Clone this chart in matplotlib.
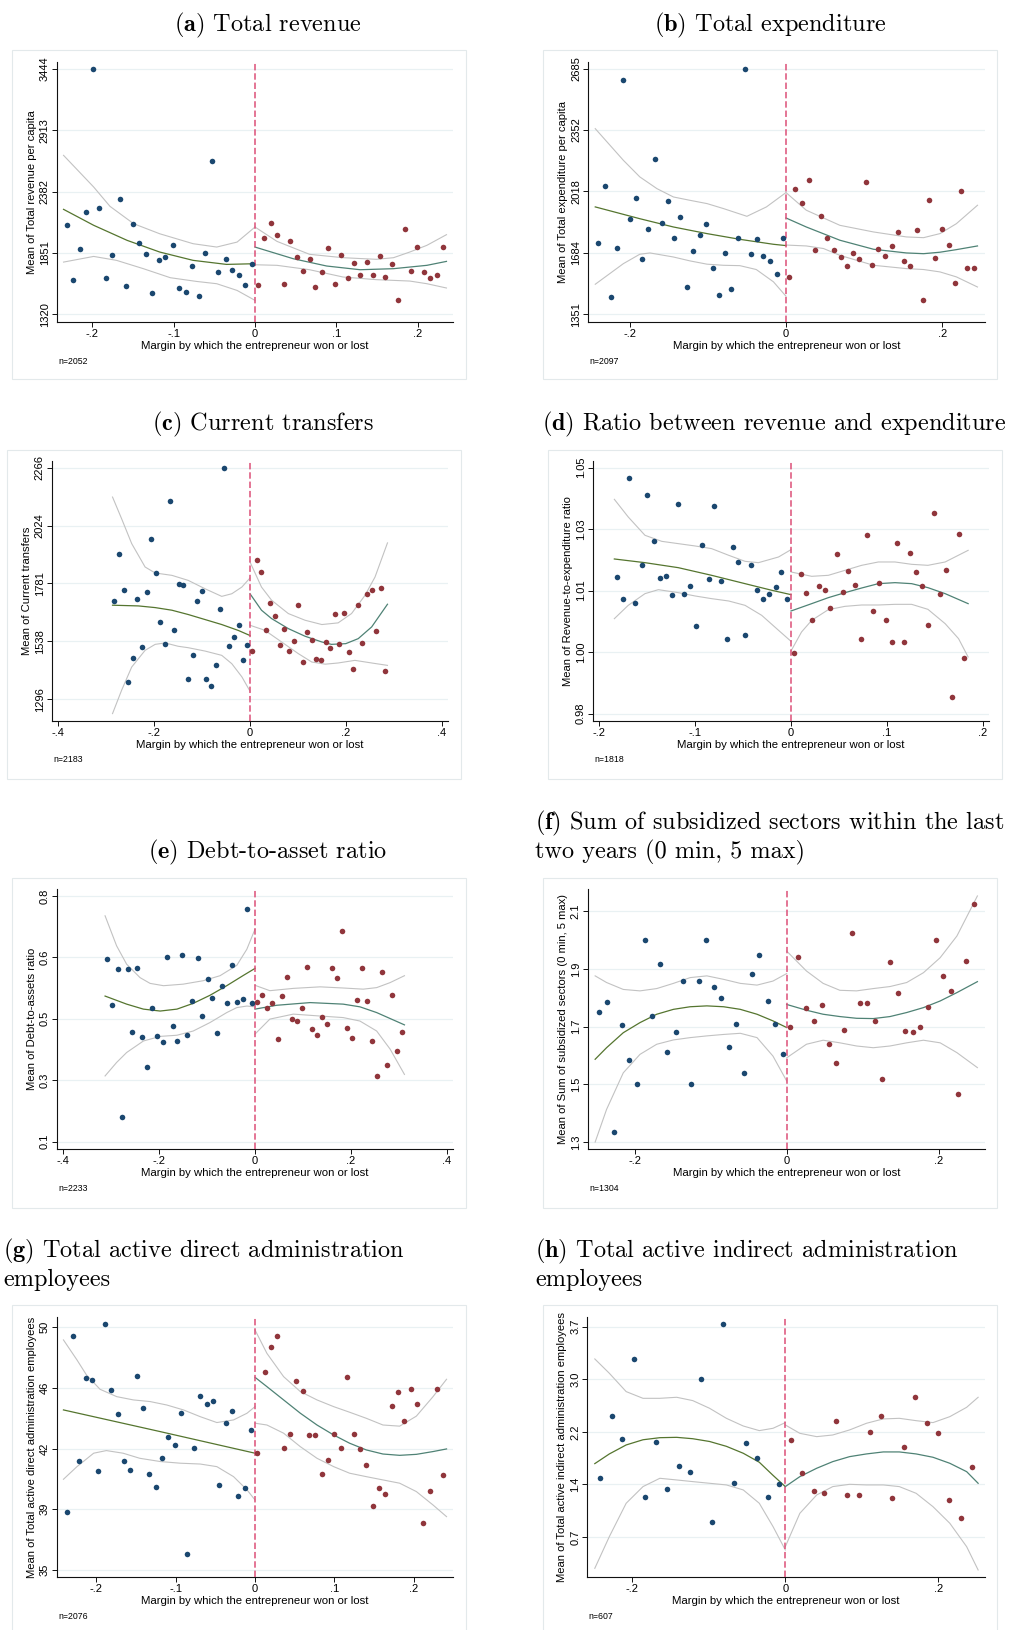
import matplotlib
matplotlib.use("Agg")
import matplotlib.pyplot as plt
from matplotlib.patches import Rectangle

# ---------------------------------------------------------------- data
# binned means (x = margin, y = mean), left of cutoff (lost) and right (won)
A_BLUE = [(-0.231,2095),(-0.223,1617),(-0.215,1888),(-0.207,2208),(-0.199,3444),(-0.191,2239),(-0.183,1631),(-0.175,1830),(-0.166,2317),(-0.158,1562),(-0.150,2098),(-0.142,1937),(-0.134,1845),(-0.126,1502),(-0.118,1790),(-0.110,1816),(-0.101,1919),(-0.093,1551),(-0.085,1516),(-0.077,1738),(-0.069,1476),(-0.061,1847),(-0.053,2643),(-0.045,1686),(-0.036,1798),(-0.028,1706),(-0.020,1660),(-0.012,1574),(-0.004,1755)]
A_RED = [(0.004,1571),(0.011,1983),(0.020,2110),(0.027,2006),(0.035,1582),(0.043,1954),(0.051,1816),(0.059,1698),(0.067,1801),(0.074,1559),(0.082,1686),(0.090,1891),(0.098,1582),(0.106,1836),(0.114,1634),(0.121,1764),(0.129,1663),(0.137,1772),(0.145,1660),(0.153,1827),(0.160,1646),(0.168,1752),(0.176,1444),(0.184,2061),(0.192,1698),(0.199,1899),(0.207,1686),(0.215,1634),(0.223,1660),(0.231,1905)]
A_FIT_L = [(-0.235,2228),(-0.198,2090),(-0.157,1960),(-0.117,1859),(-0.076,1787),(-0.035,1752),(0,1758)]
A_HI_L = [(-0.235,2695),(-0.198,2421),(-0.178,2254),(-0.149,2104),(-0.117,2017),(-0.076,1931),(-0.047,1902),(-0.022,1945),(0,2075)]
A_LO_L = [(-0.235,1772),(-0.198,1821),(-0.170,1787),(-0.137,1715),(-0.104,1637),(-0.072,1605),(-0.047,1585),(-0.022,1527),(0,1441)]
A_FIT_R = [(0,1902),(0.047,1801),(0.088,1738),(0.129,1706),(0.170,1715),(0.211,1744),(0.235,1778)]
A_HI_R = [(0,2075),(0.027,1951),(0.067,1839),(0.108,1810),(0.149,1796),(0.170,1810),(0.190,1859),(0.211,1917),(0.235,2009)]
A_LO_R = [(0,1749),(0.027,1744),(0.067,1706),(0.108,1643),(0.149,1620),(0.190,1608),(0.211,1585),(0.235,1548)]

B_BLUE = [(-0.241,1737),(-0.232,2050),(-0.224,1447),(-0.216,1709),(-0.208,2622),(-0.200,1869),(-0.192,1983),(-0.184,1653),(-0.176,1816),(-0.167,2194),(-0.159,1845),(-0.151,1965),(-0.143,1765),(-0.135,1881),(-0.127,1501),(-0.119,1697),(-0.110,1784),(-0.102,1840),(-0.094,1604),(-0.086,1456),(-0.078,1686),(-0.070,1487),(-0.061,1767),(-0.053,2685),(-0.045,1680),(-0.037,1762),(-0.029,1668),(-0.020,1642),(-0.012,1570),(-0.004,1764)]
B_RED = [(0.004,1552),(0.012,2032),(0.020,1954),(0.029,2082),(0.037,1699),(0.045,1887),(0.053,1765),(0.061,1702),(0.070,1661),(0.078,1615),(0.086,1682),(0.094,1650),(0.102,2068),(0.110,1619),(0.118,1706),(0.127,1670),(0.135,1724),(0.143,1798),(0.151,1641),(0.159,1613),(0.167,1807),(0.175,1429),(0.183,1972),(0.191,1659),(0.200,1814),(0.208,1729),(0.216,1521),(0.224,2021),(0.232,1604),(0.241,1604)]
B_FIT_L = [(-0.244,1934),(-0.187,1870),(-0.144,1825),(-0.101,1789),(-0.059,1758),(-0.016,1731),(0,1724)]
B_HI_L = [(-0.244,2359),(-0.208,2187),(-0.187,2097),(-0.165,2033),(-0.144,1988),(-0.123,1970),(-0.101,1952),(-0.080,1925),(-0.050,1883),(-0.025,1934),(0,2012)]
B_LO_L = [(-0.244,1514),(-0.208,1626),(-0.187,1677),(-0.174,1684),(-0.144,1662),(-0.123,1641),(-0.101,1623),(-0.080,1617),(-0.059,1615),(-0.038,1594),(-0.016,1527),(0,1449)]
B_FIT_R = [(0,1874),(0.026,1825),(0.069,1753),(0.112,1704),(0.154,1684),(0.176,1680),(0.197,1688),(0.218,1702),(0.245,1722)]
B_HI_R = [(0,2012),(0.026,1916),(0.069,1834),(0.112,1798),(0.154,1771),(0.176,1767),(0.197,1789),(0.218,1843),(0.245,1943)]
B_LO_R = [(0,1727),(0.026,1722),(0.048,1708),(0.069,1671),(0.112,1617),(0.154,1599),(0.176,1594),(0.197,1581),(0.218,1554),(0.245,1499)]

C_BLUE = [(-0.283,1708),(-0.273,1903),(-0.264,1755),(-0.254,1367),(-0.244,1468),(-0.235,1716),(-0.225,1515),(-0.216,1744),(-0.206,1969),(-0.197,1826),(-0.187,1621),(-0.177,1529),(-0.168,2128),(-0.159,1585),(-0.149,1780),(-0.139,1773),(-0.129,1383),(-0.120,1480),(-0.111,1708),(-0.101,1748),(-0.092,1383),(-0.082,1353),(-0.072,1441),(-0.063,1676),(-0.054,2266),(-0.044,1519),(-0.034,1557),(-0.024,1607),(-0.015,1459),(-0.006,1525)]
C_RED = [(0.004,1498),(0.014,1878),(0.024,1829),(0.033,1588),(0.042,1698),(0.052,1644),(0.062,1525),(0.072,1589),(0.081,1497),(0.091,1542),(0.101,1690),(0.110,1452),(0.120,1579),(0.129,1543),(0.138,1463),(0.148,1461),(0.158,1536),(0.168,1510),(0.177,1652),(0.186,1526),(0.196,1657),(0.206,1494),(0.216,1424),(0.225,1692),(0.234,1530),(0.244,1738),(0.254,1752),(0.264,1582),(0.273,1764),(0.282,1413)]
C_FIT_L = [(-0.287,1690),(-0.233,1687),(-0.198,1680),(-0.163,1669),(-0.129,1651),(-0.094,1630),(-0.059,1609),(-0.024,1584),(0,1563)]
C_HI_L = [(-0.287,2143),(-0.268,2052),(-0.247,1948),(-0.219,1850),(-0.198,1825),(-0.163,1815),(-0.129,1794),(-0.094,1759),(-0.059,1727),(-0.038,1738),(-0.017,1766),(0,1804)]
C_LO_L = [(-0.287,1236),(-0.268,1334),(-0.247,1431),(-0.219,1501),(-0.198,1526),(-0.177,1532),(-0.150,1518),(-0.129,1512),(-0.094,1498),(-0.059,1480),(-0.038,1445),(-0.017,1390),(0,1330)]
C_FIT_R = [(0,1738),(0.024,1669),(0.045,1634),(0.080,1592),(0.115,1560),(0.150,1536),(0.170,1526),(0.200,1529),(0.226,1550),(0.254,1599),(0.287,1694)]
C_HI_R = [(0,1871),(0.024,1766),(0.045,1711),(0.080,1655),(0.115,1627),(0.150,1609),(0.184,1616),(0.212,1655),(0.240,1731),(0.261,1808),(0.287,1951)]
C_LO_R = [(0,1606),(0.031,1585),(0.066,1536),(0.101,1487),(0.129,1452),(0.157,1443),(0.184,1448),(0.219,1459),(0.254,1448),(0.287,1438)]

D_BLUE = [(-0.182,1.0176),(-0.175,1.0118),(-0.169,1.0432),(-0.163,1.0109),(-0.156,1.0207),(-0.150,1.0388),(-0.143,1.0270),(-0.137,1.0172),(-0.131,1.0179),(-0.124,1.0128),(-0.118,1.0366),(-0.112,1.0131),(-0.105,1.0153),(-0.099,1.0047),(-0.093,1.0260),(-0.086,1.0170),(-0.080,1.0360),(-0.073,1.0164),(-0.067,1.0014),(-0.061,1.0254),(-0.055,1.0215),(-0.048,1.0024),(-0.042,1.0208),(-0.036,1.0141),(-0.029,1.0119),(-0.023,1.0130),(-0.016,1.0149),(-0.010,1.0189),(-0.004,1.0118)]
D_RED = [(0.003,0.9978),(0.010,1.0184),(0.016,1.0134),(0.022,1.0064),(0.029,1.0151),(0.035,1.0142),(0.041,1.0094),(0.048,1.0236),(0.054,1.0137),(0.060,1.0190),(0.067,1.0156),(0.073,1.0015),(0.079,1.0285),(0.086,1.0087),(0.092,1.0159),(0.099,1.0064),(0.105,1.0006),(0.111,1.0265),(0.118,1.0007),(0.124,1.0239),(0.131,1.0188),(0.137,1.0151),(0.143,1.0051),(0.149,1.0342),(0.156,1.0132),(0.162,1.0194),(0.168,0.9864),(0.175,1.0288),(0.181,0.9966)]
D_FIT_L = [(-0.1845,1.02224),(-0.1525,1.02128),(-0.1177,1.01998),(-0.0829,1.01799),(-0.048,1.01582),(-0.020,1.01409),(0,1.01296)]
D_HI_L = [(-0.1845,1.03776),(-0.170,1.03317),(-0.1525,1.0284),(-0.135,1.02683),(-0.1177,1.02623),(-0.100,1.02562),(-0.0829,1.02493),(-0.065,1.02319),(-0.048,1.02163),(-0.034,1.02128),(-0.013,1.02276),(0,1.02467)]
D_LO_L = [(-0.1845,1.00671),(-0.170,1.01018),(-0.1525,1.01322),(-0.1385,1.01426),(-0.1177,1.01348),(-0.100,1.01261),(-0.0829,1.01192),(-0.065,1.01131),(-0.048,1.01018),(-0.0306,1.00758),(-0.013,1.00368),(0,1.00082)]
D_FIT_R = [(0,1.00871),(0.0216,1.01062),(0.039,1.01218),(0.0564,1.01348),(0.0738,1.01469),(0.0912,1.01582),(0.1086,1.01608),(0.126,1.01582),(0.143,1.01478),(0.161,1.01322),(0.185,1.01062)]
D_HI_R = [(0,1.01886),(0.0216,1.01773),(0.039,1.01799),(0.0564,1.01929),(0.0738,1.02059),(0.0912,1.02146),(0.1086,1.02146),(0.126,1.02085),(0.143,1.02059),(0.161,1.02146),(0.185,1.02449)]
D_LO_R = [(0,0.9983),(0.011,1.00325),(0.0216,1.00628),(0.039,1.00906),(0.0564,1.00992),(0.0738,1.01027),(0.0912,1.01027),(0.1086,1.01044),(0.126,1.01044),(0.143,1.00914),(0.161,1.00541),(0.175,1.00151),(0.185,0.99674)]

E_BLUE = [(-0.308,0.616),(-0.298,0.497),(-0.287,0.590),(-0.277,0.204),(-0.266,0.590),(-0.256,0.426),(-0.246,0.593),(-0.235,0.412),(-0.225,0.335),(-0.214,0.489),(-0.204,0.415),(-0.193,0.399),(-0.183,0.621),(-0.172,0.441),(-0.162,0.402),(-0.152,0.625),(-0.141,0.417),(-0.131,0.505),(-0.120,0.618),(-0.110,0.467),(-0.099,0.564),(-0.089,0.515),(-0.079,0.424),(-0.068,0.544),(-0.058,0.500),(-0.047,0.600),(-0.037,0.503),(-0.026,0.511),(-0.016,0.745),(-0.006,0.500)]
E_RED = [(0.005,0.504),(0.015,0.522),(0.026,0.488),(0.036,0.500),(0.047,0.407),(0.057,0.520),(0.067,0.568),(0.078,0.460),(0.088,0.454),(0.099,0.488),(0.109,0.594),(0.119,0.434),(0.129,0.417),(0.140,0.464),(0.150,0.445),(0.161,0.591),(0.171,0.567),(0.182,0.689),(0.192,0.435),(0.202,0.411),(0.213,0.508),(0.223,0.592),(0.234,0.506),(0.244,0.401),(0.255,0.311),(0.265,0.581),(0.275,0.339),(0.286,0.523),(0.296,0.375),(0.307,0.425)]
E_FIT_L = [(-0.313,0.519),(-0.268,0.498),(-0.233,0.485),(-0.198,0.480),(-0.163,0.485),(-0.129,0.500),(-0.094,0.521),(-0.059,0.546),(-0.024,0.573),(0,0.591)]
E_HI_L = [(-0.313,0.728),(-0.289,0.650),(-0.268,0.602),(-0.240,0.567),(-0.219,0.552),(-0.191,0.546),(-0.150,0.550),(-0.108,0.559),(-0.073,0.572),(-0.038,0.599),(-0.017,0.641),(0,0.693)]
E_LO_L = [(-0.313,0.311),(-0.289,0.346),(-0.268,0.372),(-0.233,0.402),(-0.198,0.414),(-0.163,0.417),(-0.129,0.428),(-0.094,0.450),(-0.059,0.476),(-0.038,0.489),(-0.017,0.493),(0,0.491)]
E_FIT_R = [(0,0.485),(0.045,0.495),(0.115,0.502),(0.184,0.498),(0.219,0.491),(0.254,0.476),(0.312,0.444)]
E_HI_R = [(0,0.547),(0.031,0.533),(0.080,0.539),(0.136,0.543),(0.184,0.540),(0.226,0.537),(0.254,0.541),(0.282,0.554),(0.312,0.572)]
E_LO_R = [(0,0.420),(0.031,0.459),(0.080,0.472),(0.136,0.467),(0.184,0.463),(0.219,0.454),(0.254,0.428),(0.282,0.381),(0.312,0.315)]

F_BLUE = [(-0.247,1.751),(-0.237,1.786),(-0.227,1.334),(-0.217,1.706),(-0.207,1.584),(-0.197,1.500),(-0.187,1.999),(-0.177,1.737),(-0.167,1.916),(-0.157,1.611),(-0.146,1.680),(-0.136,1.857),(-0.126,1.500),(-0.116,1.857),(-0.106,1.999),(-0.096,1.839),(-0.086,1.801),(-0.076,1.631),(-0.066,1.710),(-0.056,1.540),(-0.046,1.883),(-0.036,1.950),(-0.025,1.788),(-0.015,1.710),(-0.005,1.605)]
F_RED = [(0.005,1.698),(0.015,1.943),(0.025,1.764),(0.036,1.718),(0.046,1.775),(0.056,1.639),(0.065,1.575),(0.075,1.690),(0.086,2.026),(0.096,1.782),(0.106,1.782),(0.116,1.721),(0.126,1.517),(0.136,1.923),(0.146,1.816),(0.156,1.685),(0.166,1.680),(0.176,1.700),(0.186,1.769),(0.196,1.999),(0.206,1.876),(0.216,1.824),(0.226,1.466),(0.236,1.928),(0.246,2.125)]
F_FIT_L = [(-0.252,1.587),(-0.237,1.627),(-0.215,1.679),(-0.193,1.714),(-0.171,1.743),(-0.149,1.760),(-0.127,1.769),(-0.105,1.772),(-0.083,1.769),(-0.061,1.760),(-0.039,1.743),(-0.018,1.720),(0,1.697)]
F_HI_L = [(-0.252,1.876),(-0.237,1.853),(-0.215,1.829),(-0.193,1.824),(-0.171,1.832),(-0.149,1.850),(-0.127,1.870),(-0.105,1.876),(-0.083,1.864),(-0.061,1.850),(-0.039,1.844),(-0.018,1.858),(0,1.884)]
F_LO_L = [(-0.252,1.300),(-0.237,1.413),(-0.215,1.540),(-0.193,1.604),(-0.171,1.639),(-0.149,1.654),(-0.127,1.662),(-0.105,1.668),(-0.083,1.673),(-0.061,1.677),(-0.039,1.662),(-0.018,1.598),(0,1.512)]
F_FIT_R = [(0,1.777),(0.026,1.757),(0.048,1.743),(0.070,1.735),(0.092,1.729),(0.114,1.728),(0.136,1.735),(0.158,1.749),(0.180,1.766),(0.202,1.789),(0.224,1.818),(0.251,1.856)]
F_HI_R = [(0,1.962),(0.026,1.893),(0.048,1.850),(0.070,1.826),(0.092,1.824),(0.114,1.832),(0.136,1.839),(0.158,1.853),(0.180,1.887),(0.202,1.939),(0.224,2.014),(0.251,2.153)]
F_LO_R = [(0,1.592),(0.026,1.639),(0.048,1.653),(0.070,1.644),(0.092,1.633),(0.114,1.627),(0.136,1.633),(0.158,1.644),(0.180,1.653),(0.202,1.644),(0.224,1.610),(0.251,1.558)]

G_BLUE = [(-0.237,38.54),(-0.229,49.27),(-0.221,41.67),(-0.213,46.69),(-0.205,46.59),(-0.197,41.02),(-0.189,49.98),(-0.181,46.00),(-0.173,44.49),(-0.165,41.67),(-0.157,41.10),(-0.149,46.81),(-0.141,44.86),(-0.133,40.83),(-0.125,40.06),(-0.117,41.81),(-0.109,43.13),(-0.101,42.64),(-0.093,44.56),(-0.085,36.00),(-0.077,42.42),(-0.069,45.61),(-0.061,45.12),(-0.053,45.33),(-0.045,40.18),(-0.037,43.95),(-0.029,44.70),(-0.021,39.49),(-0.013,40.02),(-0.005,43.54)]
G_RED = [(0.003,42.16),(0.012,47.08),(0.020,48.58),(0.028,49.27),(0.036,42.46),(0.044,43.29),(0.052,46.51),(0.060,45.94),(0.068,43.21),(0.076,43.21),(0.084,40.88),(0.092,41.71),(0.100,43.32),(0.108,42.46),(0.116,46.77),(0.124,43.29),(0.132,42.36),(0.140,41.38),(0.148,38.92),(0.156,40.00),(0.164,39.64),(0.172,45.00),(0.180,45.84),(0.188,44.09),(0.196,46.02),(0.204,45.10),(0.212,37.87),(0.220,39.80),(0.229,46.02),(0.237,40.79)]
G_FIT_L = [(-0.241,44.76),(-0.1195,43.44),(0,42.12)]
G_HI_L = [(-0.241,49.03),(-0.224,47.81),(-0.212,46.89),(-0.195,46.02),(-0.174,45.57),(-0.153,45.37),(-0.132,45.27),(-0.111,45.06),(-0.090,44.76),(-0.069,44.35),(-0.048,43.99),(-0.027,44.15),(-0.010,44.56),(0,44.96)]
G_LO_L = [(-0.241,40.53),(-0.224,41.30),(-0.203,42.12),(-0.187,42.28),(-0.166,42.12),(-0.145,41.81),(-0.119,41.61),(-0.094,41.51),(-0.069,41.46),(-0.048,41.30),(-0.027,40.69),(-0.010,39.88),(0,39.27)]
G_FIT_R = [(0,46.75),(0.015,46.18),(0.036,45.37),(0.057,44.56),(0.078,43.84),(0.099,43.23),(0.119,42.73),(0.140,42.32),(0.161,42.07),(0.182,41.99),(0.203,42.05),(0.224,42.22),(0.241,42.38)]
G_HI_R = [(0,49.64),(0.015,48.21),(0.036,46.79),(0.057,45.88),(0.078,45.37),(0.099,44.96),(0.119,44.62),(0.140,44.25),(0.161,43.84),(0.182,43.77),(0.203,44.38),(0.224,45.57),(0.241,46.63)]
G_LO_R = [(0,43.95),(0.015,43.84),(0.036,43.34),(0.057,42.52),(0.078,41.81),(0.099,41.30),(0.119,40.90),(0.140,40.69),(0.161,40.49),(0.182,40.29),(0.203,39.78),(0.224,38.96),(0.241,38.25)]

H_BLUE = [(-0.242,1.538),(-0.227,2.424),(-0.213,2.101),(-0.198,3.248),(-0.183,1.263),(-0.169,2.053),(-0.154,1.369),(-0.139,1.706),(-0.125,1.620),(-0.110,2.969),(-0.096,0.902),(-0.081,3.754),(-0.067,1.456),(-0.052,2.039),(-0.037,1.817),(-0.023,1.253),(-0.008,1.446)]
H_RED = [(0.007,2.087),(0.022,1.600),(0.037,1.350),(0.051,1.316),(0.066,2.361),(0.081,1.287),(0.096,1.292),(0.111,2.198),(0.125,2.424),(0.140,1.239),(0.155,1.986),(0.170,2.708),(0.185,2.328),(0.200,2.178),(0.214,1.210),(0.229,0.955),(0.244,1.692)]
H_FIT_L = [(-0.249,1.740),(-0.230,1.880),(-0.208,2.010),(-0.186,2.085),(-0.164,2.115),(-0.142,2.120),(-0.121,2.100),(-0.099,2.060),(-0.077,1.990),(-0.055,1.890),(-0.034,1.760),(-0.016,1.570),(0,1.408)]
H_HI_L = [(-0.249,3.253),(-0.230,3.046),(-0.208,2.781),(-0.186,2.684),(-0.164,2.684),(-0.142,2.699),(-0.121,2.651),(-0.099,2.540),(-0.077,2.395),(-0.055,2.284),(-0.034,2.217),(-0.016,2.251),(0,2.333)]
H_LO_L = [(-0.249,0.227),(-0.230,0.685),(-0.208,1.167),(-0.186,1.408),(-0.164,1.528),(-0.142,1.504),(-0.121,1.480),(-0.099,1.456),(-0.077,1.432),(-0.055,1.360),(-0.034,1.167),(-0.016,0.829),(0,0.492)]
H_FIT_R = [(0,1.408),(0.019,1.552),(0.041,1.673),(0.062,1.769),(0.084,1.841),(0.106,1.880),(0.128,1.909),(0.149,1.909),(0.171,1.880),(0.193,1.832),(0.215,1.745),(0.237,1.624),(0.252,1.456)]
H_HI_R = [(0,2.299),(0.019,2.178),(0.041,2.130),(0.062,2.154),(0.084,2.227),(0.106,2.323),(0.128,2.386),(0.149,2.395),(0.171,2.361),(0.193,2.333),(0.215,2.419),(0.237,2.554),(0.252,2.699)]
H_LO_R = [(0,0.540),(0.019,1.022),(0.041,1.287),(0.062,1.408),(0.084,1.441),(0.106,1.432),(0.128,1.432),(0.149,1.408),(0.171,1.311),(0.193,1.118),(0.215,0.878),(0.237,0.540),(0.252,0.203)]

# axis ticks / labels
A_YT = [1320, 1851, 2382, 2913, 3444]
A_YL = ['1320', '1851', '2382', '2913', '3444']
B_YT = [1351, 1684.5, 2018, 2351.5, 2685]
B_YL = ['1351', '1684', '2018', '2352', '2685']
C_YT = [1296, 1538.5, 1781, 2023.5, 2266]
C_YL = ['1296', '1538', '1781', '2024', '2266']
D_YT = [0.982, 0.998, 1.014, 1.030, 1.046]
D_YL = ['0.98', '1.00', '1.01', '1.03', '1.05']
E_YT = [0.14, 0.30, 0.46, 0.62, 0.78]
E_YL = ['0.1', '0.3', '0.5', '0.6', '0.8']
F_YT = [1.3, 1.5, 1.7, 1.9, 2.1]
F_YL = ['1.3', '1.5', '1.7', '1.9', '2.1']
G_YT = [35.0, 38.7, 42.4, 46.1, 49.8]
G_YL = ['35', '39', '42', '46', '50']
H_YT = [0.68, 1.44, 2.20, 2.96, 3.72]
H_YL = ['0.7', '1.4', '2.2', '3.0', '3.7']

XT5 = [-0.2, -0.1, 0, 0.1, 0.2]
XL5 = ['-.2', '-.1', '0', '.1', '.2']
XT3 = [-0.2, 0, 0.2]
XL3 = ['-.2', '0', '.2']
XT4 = [-0.4, -0.2, 0, 0.2, 0.4]
XL4 = ['-.4', '-.2', '0', '.2', '.4']

N_OBS = {'a': 2052, 'b': 2097, 'c': 2183, 'd': 1818, 'e': 2233, 'f': 1304, 'g': 2076, 'h': 607}
YLABELS = {
    'a': 'Mean of Total revenue per capita',
    'b': 'Mean of Total expenditure per capita',
    'c': 'Mean of Current transfers',
    'd': 'Mean of Revenue-to-expenditure ratio',
    'e': 'Mean of Debt-to-assets ratio',
    'f': 'Mean of Sum of subsidized sectors (0 min, 5 max)',
    'g': 'Mean of Total active direct administration employees',
    'h': 'Mean of Total active indirect administration employees',
}
XLABEL = 'Margin by which the entrepreneur won or lost'

# ---------------------------------------------------------------- style
plt.rcParams['font.family'] = 'Liberation Sans'
plt.rcParams['mathtext.fontset'] = 'cm'

NAVY = '#1a476f'
MAROON = '#90353b'
GREEN = '#55752f'
TEAL = '#4f8275'
CI = '#c2c2c2'
DASH = '#dc5078'
GRID = '#e9f1f3'
FRAME = '#e3e9eb'

W, H = 1012, 1630
fig = plt.figure(figsize=(W / 100, H / 100), dpi=100)


def frac(l, t, r, b):
    return [l / W, 1 - b / H, (r - l) / W, (b - t) / H]


def xy(pts):
    return [p[0] for p in pts], [p[1] for p in pts]


def panel(key, box, axbox, blue, red, curves, xlim, ylim, xt, xl, yt, yl):
    fig.patches.append(Rectangle((box[0] / W, 1 - box[3] / H), (box[2] - box[0]) / W,
                                 (box[3] - box[1]) / H, transform=fig.transFigure,
                                 fill=False, edgecolor=FRAME, lw=0.8))
    ax = fig.add_axes(frac(*axbox))
    fit_l, lo_l, hi_l, fit_r, lo_r, hi_r = curves
    for c in (lo_l, hi_l, lo_r, hi_r):
        ax.plot(*xy(c), color=CI, lw=0.8, zorder=2)
    ax.plot(*xy(fit_l), color=GREEN, lw=0.9, zorder=3)
    ax.plot(*xy(fit_r), color=TEAL, lw=0.9, zorder=3)
    ax.axvline(0, color=DASH, lw=1.1, dashes=(4.2, 1.9), zorder=4)
    ax.scatter(*xy(blue), s=16, color=NAVY, linewidths=0, zorder=5)
    ax.scatter(*xy(red), s=16, color=MAROON, linewidths=0, zorder=5)

    ax.set_xlim(*xlim)
    ax.set_ylim(*ylim)
    ax.set_xticks(xt)
    ax.set_xticklabels(xl)
    ax.set_yticks(yt)
    ax.set_yticklabels(yl, rotation=90, va='center')
    ax.yaxis.grid(True, color=GRID, lw=0.9)
    ax.set_axisbelow(True)
    for s in ('top', 'right'):
        ax.spines[s].set_visible(False)
    for s in ('left', 'bottom'):
        ax.spines[s].set_linewidth(0.8)
        ax.spines[s].set_color('#111111')
    ax.tick_params(length=3.6, width=0.7, color='#111111', labelsize=8, pad=1.5)
    ax.set_xlabel(XLABEL, fontsize=8.2, labelpad=1.5)
    ax.set_ylabel(YLABELS[key], fontsize=8.1, labelpad=2)
    fig.text((axbox[0] + 1.5) / W, 1 - (axbox[3] + 39) / H, 'n=%d' % N_OBS[key],
             fontsize=6.3, ha='left', va='center')
    return ax


panel('a', (12, 50, 466, 379), (56.7, 62, 453.3, 322), A_BLUE, A_RED,
      (A_FIT_L, A_LO_L, A_HI_L, A_FIT_R, A_LO_R, A_HI_R),
      (-0.2434, 0.2434), (1254, 3502), XT5, XL5, A_YT, A_YL)
panel('b', (543, 50, 997, 379), (588.3, 62, 985, 322), B_BLUE, B_RED,
      (B_FIT_L, B_LO_L, B_HI_L, B_FIT_R, B_LO_R, B_HI_R),
      (-0.2529, 0.2546), (1309, 2721), XT3, XL3, B_YT, B_YL)
panel('c', (7, 450, 461, 779), (51.7, 461, 448.3, 721), C_BLUE, C_RED,
      (C_FIT_L, C_LO_L, C_HI_L, C_FIT_R, C_LO_R, C_HI_R),
      (-0.414, 0.414), (1205, 2294), XT4, XL4, C_YT, C_YL)
panel('d', (548, 450, 1002, 779), (592.7, 461, 989.3, 721), D_BLUE, D_RED,
      (D_FIT_L, D_LO_L, D_HI_L, D_FIT_R, D_LO_R, D_HI_R),
      (-0.2071, 0.2071), (0.98009, 1.04773), XT5, XL5, D_YT, D_YL)
panel('e', (12, 878, 466, 1208), (56.7, 889.3, 453.3, 1149.3), E_BLUE, E_RED,
      (E_FIT_L, E_LO_L, E_HI_L, E_FIT_R, E_LO_R, E_HI_R),
      (-0.414, 0.414), (0.120, 0.797), XT4, XL4, E_YT, E_YL)
panel('f', (543, 878, 997, 1208), (587.7, 889.3, 985, 1149.3), F_BLUE, F_RED,
      (F_FIT_L, F_LO_L, F_HI_L, F_FIT_R, F_LO_R, F_HI_R),
      (-0.2618, 0.261), (1.275, 2.176), XT3, XL3, F_YT, F_YL)
panel('g', (12, 1305, 466, 1645), (56.7, 1317.3, 453.3, 1577.3), G_BLUE, G_RED,
      (G_FIT_L, G_LO_L, G_HI_L, G_FIT_R, G_LO_R, G_HI_R),
      (-0.2495, 0.2495), (34.55, 50.41), XT5, XL5, G_YT, G_YL)
panel('h', (543, 1305, 997, 1645), (587.3, 1317.3, 984.7, 1577.3), H_BLUE, H_RED,
      (H_FIT_L, H_LO_L, H_HI_L, H_FIT_R, H_LO_R, H_HI_R),
      (-0.2588, 0.2606), (0.097, 3.855), XT3, XL3, H_YT, H_YL)

# ---------------------------------------------------------------- captions
TFS = 17.5
def caption(x, y, s, ha='center'):
    fig.text(x / W, 1 - y / H, s, family='cmr10', fontsize=TFS, ha=ha, va='center')

caption(268, 25, r'$\mathbf{(a)}$ Total revenue')
caption(770, 25, r'$\mathbf{(b)}$ Total expenditure')
caption(263, 424, r'$\mathbf{(c)}$ Current transfers')
caption(774, 424, r'$\mathbf{(d)}$ Ratio between revenue and expenditure')
caption(268, 852, r'$\mathbf{(e)}$ Debt-to-asset ratio')
caption(535, 823, r'$\mathbf{(f)}$ Sum of subsidized sectors within the last', ha='left')
caption(535, 852, 'two years (0 min, 5 max)', ha='left')
caption(3, 1251, r'$\mathbf{(g)}$ Total active direct administration', ha='left')
caption(3, 1280, 'employees', ha='left')
caption(535, 1251, r'$\mathbf{(h)}$ Total active indirect administration', ha='left')
caption(535, 1280, 'employees', ha='left')

fig.savefig('out.png', dpi=100)
